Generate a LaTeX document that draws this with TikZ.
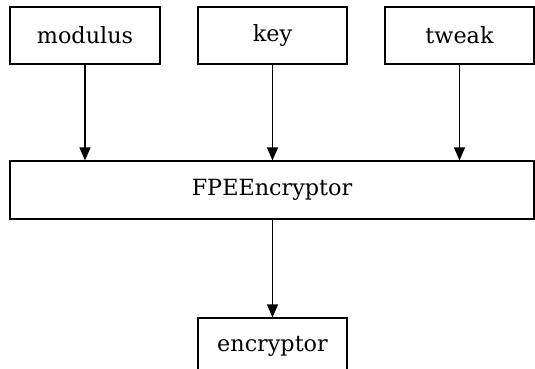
\documentclass[tikz,border=0pt]{standalone}
\usepackage{fontspec}
\setmainfont{DejaVu Serif}
\usetikzlibrary{arrows.meta}

\tikzset{
  box/.style={draw, line width=1.2pt, minimum height=57pt, inner sep=0pt, font=\fontsize{22.3}{26}\selectfont},
  flow/.style={line width=1.3pt, -{Triangle[length=13pt,width=11pt]}}
}

\begin{document}
\begin{tikzpicture}[x=1pt,y=1pt]

  \useasboundingbox (0,0) rectangle (535,369);
  \clip (0,0) rectangle (535,369);

  \node[box, minimum width=150pt] (modulus) at (85,333.5) {modulus};
  \node[box, minimum width=149pt] (key) at (272.5,333.5) {key};
  \node[box, minimum width=149pt] (tweak) at (459.5,333.5) {tweak};

  \node[box, minimum width=524pt, minimum height=58pt] (fpe) at (272,179) {FPEEncryptor};

  \node[box, minimum width=149pt] (encryptor) at (272.5,22.5) {encryptor};

  \draw[flow] (modulus.south) -- (modulus.south |- fpe.north);
  \draw[flow] (key.south) -- (key.south |- fpe.north);
  \draw[flow] (tweak.south) -- (tweak.south |- fpe.north);
  \draw[flow] (fpe.south -| encryptor.north) -- (encryptor.north);

\end{tikzpicture}
\end{document}
